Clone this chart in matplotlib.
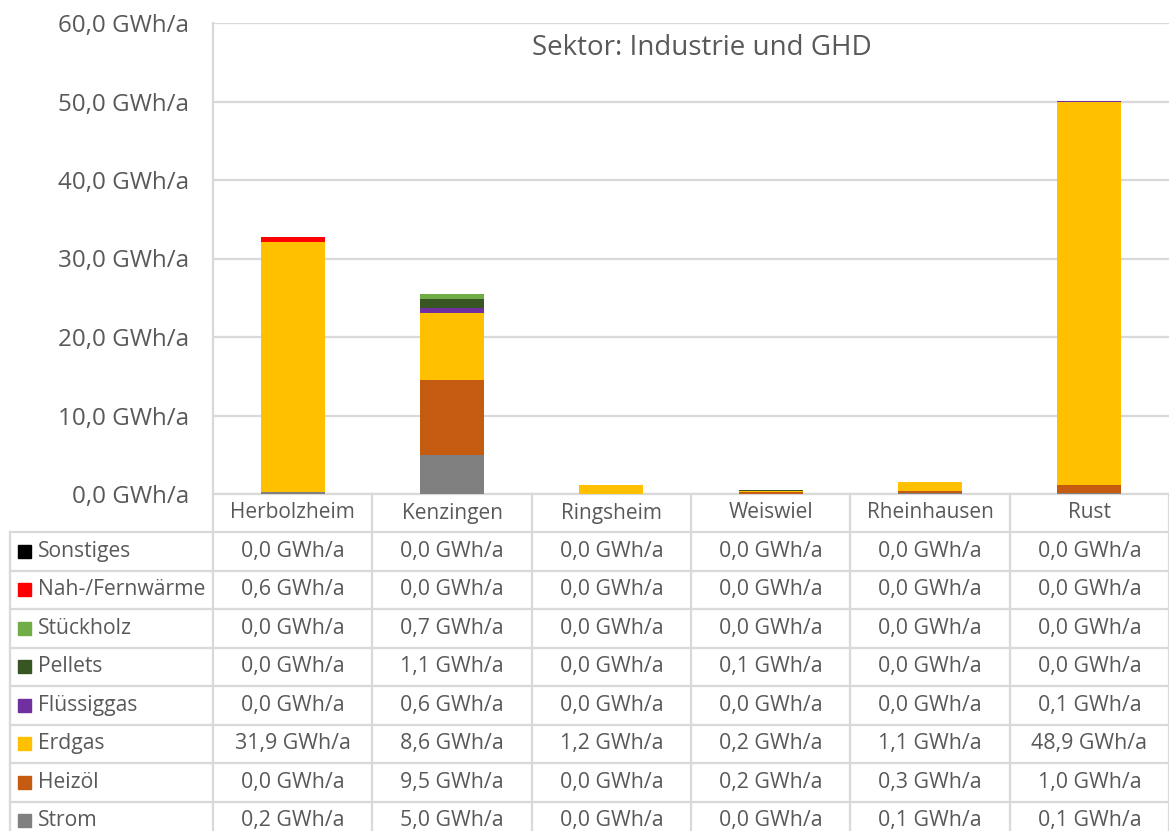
import matplotlib.pyplot as plt

# Gemeinden und Energieträger (Werte in GWh/a)
orte = ["Herbolzheim", "Kenzingen", "Ringsheim", "Weiswiel", "Rheinhausen", "Rust"]
traeger = ["Sonstiges", "Nah-/Fernwärme", "Stückholz", "Pellets", "Flüssiggas", "Erdgas", "Heizöl", "Strom"]
farben = ["#000000", "#FF0000", "#70AD47", "#375623", "#7030A0", "#FFC000", "#C55A11", "#808080"]

sonstiges = [0.0, 0.0, 0.0, 0.0, 0.0, 0.0]
fernwaerme = [0.6, 0.0, 0.0, 0.0, 0.0, 0.0]
stueckholz = [0.0, 0.7, 0.0, 0.0, 0.0, 0.0]
pellets = [0.0, 1.1, 0.0, 0.1, 0.0, 0.0]
fluessiggas = [0.0, 0.6, 0.0, 0.0, 0.0, 0.1]
erdgas = [31.9, 8.6, 1.2, 0.2, 1.1, 48.9]
heizoel = [0.0, 9.5, 0.0, 0.2, 0.3, 1.0]
strom = [0.2, 5.0, 0.0, 0.0, 0.1, 0.1]

werte = [sonstiges, fernwaerme, stueckholz, pellets, fluessiggas, erdgas, heizoel, strom]
yticks = [0, 10, 20, 30, 40, 50, 60]

plt.rcParams['font.family'] = ['Open Sans', 'DejaVu Sans']
grau = "#595959"
linie = "#D9D9D9"

W, H = 1169, 831
fig = plt.figure(figsize=(W / 100, H / 100), dpi=100)

# Hintergrund-Achse in Pixelkoordinaten für die Datentabelle
bg = fig.add_axes([0, 0, 1, 1])
bg.set_xlim(0, W)
bg.set_ylim(H, 0)
bg.axis("off")

left, right, top, bottom = 213, 1169, 23, 494
ax = fig.add_axes([left / W, (H - bottom) / H, (right - left) / W, (bottom - top) / H])

# gestapelte Säulen, von unten (Strom) nach oben (Sonstiges)
x = list(range(len(orte)))
basis = [0.0] * len(orte)
for i in range(len(traeger) - 1, -1, -1):
    ax.bar(x, werte[i], 0.4, bottom=basis, color=farben[i], zorder=3)
    basis = [basis[j] + werte[i][j] for j in range(len(orte))]

ax.set_xlim(-0.5, len(orte) - 0.5)
ax.set_ylim(0, 60)
ax.set_yticks(yticks)
ax.set_yticklabels([("%.1f GWh/a" % v).replace(".", ",") for v in yticks], fontsize=17.4, color=grau)
ax.tick_params(axis="y", length=0, pad=17)
ax.set_xticks([])
ax.grid(axis="y", color=linie, linewidth=1.6, zorder=0)
for s in ["top", "right", "bottom"]:
    ax.spines[s].set_visible(False)
ax.spines["left"].set_color(linie)
ax.spines["left"].set_linewidth(1.6)
ax.set_facecolor("none")

bg.text(702, 48, "Sektor: Industrie und GHD", fontsize=20, color=grau, ha="center", va="center")

# Datentabelle
colw = (right - left) / len(orte)
rowh = 38.5
y0 = 532
lw = 1.6
bg.plot([left, right], [bottom, bottom], color=linie, lw=lw)
for k in range(len(traeger) + 2):
    bg.plot([10, right], [y0 + k * rowh, y0 + k * rowh], color=linie, lw=lw)
bg.plot([10, 10], [y0, H], color=linie, lw=lw)
for j in range(len(orte) + 1):
    bg.plot([left + j * colw, left + j * colw], [bottom, H], color=linie, lw=lw)

for j in range(len(orte)):
    bg.text(left + (j + 0.5) * colw, bottom + 19, orte[j], fontsize=15, color=grau, ha="center", va="center")

for i in range(len(traeger)):
    yc = y0 + (i + 0.5) * rowh
    bg.add_patch(plt.Rectangle((18, yc - 6.5), 13, 13, color=farben[i]))
    bg.text(38, yc, traeger[i], fontsize=15.2, color=grau, ha="left", va="center")
    for j in range(len(orte)):
        txt = ("%.1f GWh/a" % werte[i][j]).replace(".", ",")
        bg.text(left + (j + 0.5) * colw, yc, txt, fontsize=15.4, color=grau, ha="center", va="center")

plt.savefig("out.png", dpi=100)
